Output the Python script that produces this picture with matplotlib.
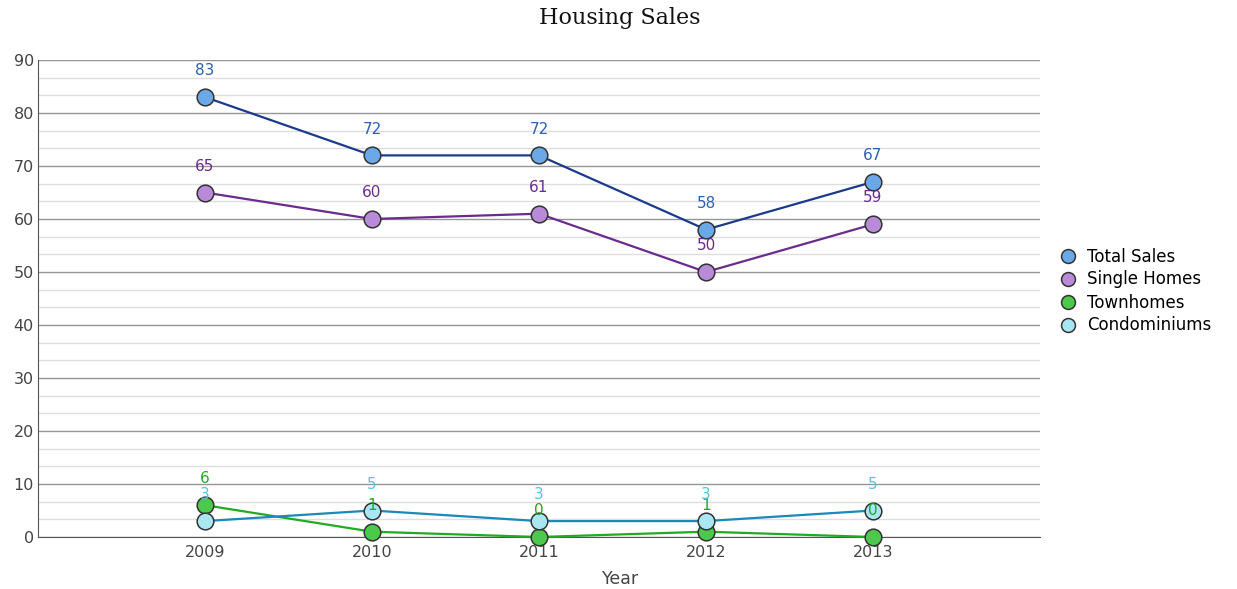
import matplotlib.pyplot as plt
from matplotlib.ticker import MultipleLocator

years = [2009, 2010, 2011, 2012, 2013]
total_sales = [83, 72, 72, 58, 67]
single_homes = [65, 60, 61, 50, 59]
townhomes = [6, 1, 0, 1, 0]
condominiums = [3, 5, 3, 3, 5]

series = [
    # name, values, line colour, marker colour, label colour
    ("Total Sales", total_sales, "#1b3a8c", "#6aa8e8", "#2f5fb0"),
    ("Single Homes", single_homes, "#6a2c8c", "#b88ad8", "#6a2c8c"),
    ("Townhomes", townhomes, "#22aa22", "#4cc84c", "#22a822"),
    ("Condominiums", condominiums, "#1a88b8", "#a8e6f2", "#58c4dc"),
]

fig = plt.figure(figsize=(12.37, 5.89), dpi=100)
ax = fig.add_axes([38 / 1237, 52 / 589, (1040 - 38) / 1237, (537 - 60) / 589])

ax.set_xlim(2008, 2014)
ax.set_ylim(0, 90)
ax.yaxis.set_major_locator(MultipleLocator(10))
ax.yaxis.set_minor_locator(MultipleLocator(10 / 3))
ax.set_xticks(years)
ax.grid(which="major", axis="y", color="#959595", linewidth=1.0)
ax.grid(which="minor", axis="y", color="#dedede", linewidth=1.0)
ax.set_axisbelow(True)

for s in ["top", "right"]:
    ax.spines[s].set_visible(False)
ax.spines["left"].set_color("#555555")
ax.spines["bottom"].set_color("#555555")
ax.tick_params(axis="both", which="both", length=0, labelsize=11.5, colors="#444444")
ax.tick_params(axis="x", pad=6)
ax.tick_params(axis="y", pad=3)

for name, vals, lc, mc, tc in series:
    ax.plot(years, vals, color=lc, linewidth=1.6, marker="o", markersize=12,
            markerfacecolor=mc, markeredgecolor="#333333", markeredgewidth=1.1,
            label=name, clip_on=False, zorder=3)
    for x, y in zip(years, vals):
        ax.annotate(str(y), (x, y), xytext=(0, 19), textcoords="offset points",
                    ha="center", va="center", fontsize=11, color=tc, zorder=4)

ax.set_xlabel("Year", fontsize=12.5, color="#444444")
ax.xaxis.set_label_coords((621 - 38) / 1002, -0.07)
fig.suptitle("Housing Sales", x=620 / 1237, y=1 - 18 / 589, va="center",
             fontsize=16, family="DejaVu Serif", color="#111111")

fig.legend(loc="center left", bbox_to_anchor=(1054 / 1237, 1 - 291 / 589),
           frameon=False, fontsize=12, handlelength=0.9, handletextpad=0.7,
           labelspacing=0.3, borderaxespad=0)
for line in fig.legends[0].get_lines():
    line.set_linestyle("none")
    line.set_markersize(10)

fig.savefig("out.png", dpi=100)
